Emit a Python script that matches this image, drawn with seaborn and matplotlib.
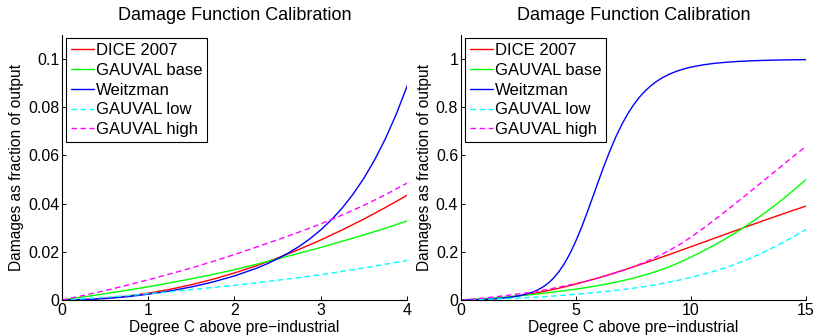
import matplotlib
matplotlib.use("Agg")
import matplotlib.pyplot as plt
import seaborn as sns
import pandas as pd

# Temperature increase above pre-industrial (degree C)
temperature = [0, 0.25, 0.5, 0.75, 1, 1.25, 1.5, 1.75, 2, 2.25, 2.5, 2.75, 3,
               3.25, 3.5, 3.75, 4, 4.5, 5, 5.5, 6, 6.5, 7, 7.5, 8, 8.5, 9,
               9.5, 10, 10.5, 11, 11.5, 12, 12.5, 13, 13.5, 14, 14.5, 15]

# Finer temperature grid for the steep Weitzman curve
temperature_weitzman = [0, 0.25, 0.5, 0.75, 1, 1.25, 1.5, 1.75, 2, 2.25,
                        2.375, 2.5, 2.625, 2.75, 2.875, 3, 3.125, 3.25, 3.375,
                        3.5, 3.625, 3.75, 3.875, 4,
                        4.25, 4.5, 4.75, 5, 5.25, 5.5, 5.75, 6, 6.25, 6.5,
                        6.75, 7, 7.25, 7.5, 7.75, 8, 8.25, 8.5, 8.75, 9, 9.25,
                        9.5, 9.75, 10,
                        10.5, 11, 11.5, 12, 12.5, 13, 13.5, 14, 14.5, 15]

# Damages as a fraction of output for each calibration
dice_2007 = [0, 0.00018, 0.00071, 0.00159, 0.00283, 0.00442, 0.00635, 0.00862,
             0.01123, 0.01417, 0.01743, 0.02102, 0.02491, 0.02911, 0.03361,
             0.03839, 0.04345, 0.05436, 0.06627, 0.07908, 0.09272, 0.10710,
             0.12211, 0.13770, 0.15376, 0.17020, 0.18695, 0.20395, 0.22110,
             0.23837, 0.25567, 0.27296, 0.29020, 0.30730, 0.32421, 0.34097,
             0.35748, 0.37377, 0.38977]
gauval_base = [0, 0.0013, 0.0026, 0.0040, 0.0055, 0.0071, 0.0088, 0.0106,
               0.0126, 0.0148, 0.0171, 0.0194, 0.0218, 0.0244, 0.0270, 0.0298,
               0.0328, 0.0388, 0.0452, 0.0525, 0.0605, 0.0695, 0.0795, 0.0910,
               0.1040, 0.1190, 0.1360, 0.1560, 0.1780, 0.2020, 0.2270, 0.2540,
               0.2830, 0.3140, 0.3470, 0.3820, 0.4190, 0.4590, 0.5000]
weitzman = [0, 0.00015, 0.00060, 0.00134, 0.00239, 0.00374, 0.00542, 0.00748,
            0.01000, 0.01313,
            0.01499, 0.01710, 0.01951, 0.02226, 0.02543, 0.02909, 0.03333,
            0.03824, 0.04394, 0.05054, 0.05818, 0.06698, 0.07710, 0.08866,
            0.11668, 0.15199, 0.19512, 0.24603, 0.30386, 0.36699, 0.43315,
            0.49984, 0.56458, 0.62535, 0.68074, 0.73002, 0.77295, 0.80977,
            0.84097, 0.86716, 0.88901, 0.90718, 0.92224, 0.93472, 0.94505,
            0.95363, 0.96075, 0.96668,
            0.97577, 0.98216, 0.98672, 0.98999, 0.99238, 0.99414, 0.99545,
            0.99644, 0.99719, 0.99776]
gauval_low = [0, 0.0005, 0.0011, 0.0018, 0.0026, 0.0034, 0.0043, 0.0052,
              0.0061, 0.0071, 0.0082, 0.0093, 0.0105, 0.0119, 0.0133, 0.0148,
              0.0164, 0.0200, 0.0240, 0.0282, 0.0325, 0.0375, 0.0430, 0.0490,
              0.0560, 0.0640, 0.0730, 0.0830, 0.0940, 0.1060, 0.1190, 0.1340,
              0.1510, 0.1700, 0.1910, 0.2140, 0.2390, 0.2650, 0.2930]
gauval_high = [0, 0.0019, 0.0039, 0.0061, 0.0084, 0.0108, 0.0133, 0.0160,
               0.0189, 0.0219, 0.0250, 0.0282, 0.0316, 0.0353, 0.0393, 0.0437,
               0.0485, 0.0583, 0.0685, 0.0795, 0.0920, 0.1060, 0.1215, 0.1385,
               0.1575, 0.1790, 0.2030, 0.2300, 0.2610, 0.2950, 0.3310, 0.3680,
               0.4060, 0.4440, 0.4830, 0.5220, 0.5610, 0.6000, 0.6380]

series_names = ["DICE 2007", "GAUVAL base", "Weitzman", "GAUVAL low", "GAUVAL high"]
series_x = [temperature, temperature, temperature_weitzman, temperature, temperature]
series_values = [dice_2007, gauval_base, weitzman, gauval_low, gauval_high]
series_colors = ["#ff0000", "#00ff00", "#0000ff", "#00ffff", "#ff00ff"]
series_dashed = [False, False, False, True, True]

left_xticks = [0, 1, 2, 3, 4]
left_yticks = [0, 0.02, 0.04, 0.06, 0.08, 0.1]
left_yticklabels = ["0", "0.02", "0.04", "0.06", "0.08", "0.1"]
right_xticks = [0, 5, 10, 15]
right_yticks = [0, 0.2, 0.4, 0.6, 0.8, 1.0]
right_yticklabels = ["0", "0.2", "0.4", "0.6", "0.8", "1"]

title_text = "Damage Function Calibration"
xlabel_text = "Degree C above pre\u2212industrial"
ylabel_text = "Damages as fraction of output"

frames = []
for name, xs, vals in zip(series_names, series_x, series_values):
    frames.append(pd.DataFrame({"T": xs, "D": vals, "model": name}))
data = pd.concat(frames, ignore_index=True)

sns.set_style("white")
plt.rcParams.update({
    "font.family": ["Liberation Sans", "DejaVu Sans"],
    "font.size": 11,
    "axes.edgecolor": "black",
    "axes.linewidth": 0.8,
    "xtick.direction": "in",
    "ytick.direction": "in",
    "xtick.major.size": 2.6,
    "ytick.major.size": 2.6,
    "xtick.major.width": 0.7,
    "ytick.major.width": 0.7,
    "xtick.bottom": True,
    "ytick.left": True,
    "xtick.color": "black",
    "ytick.color": "black",
    "text.color": "black",
    "axes.labelcolor": "black",
})

fig = plt.figure(figsize=(8.17, 3.36), dpi=100)
W, H = 817, 336
ax_left = fig.add_axes([62 / W, 36 / H, 345 / W, 265 / H])
ax_right = fig.add_axes([461 / W, 36 / H, 345 / W, 265 / H])

panels = [
    (ax_left, (0, 4), (0, 0.11), left_xticks, left_yticks, left_yticklabels),
    (ax_right, (0, 15), (0, 1.1), right_xticks, right_yticks, right_yticklabels),
]

for ax, xlim, ylim, xt, yt, ytl in panels:
    handles = []
    for name, color, dashed in zip(series_names, series_colors, series_dashed):
        sub = data[data["model"] == name]
        sns.lineplot(data=sub, x="T", y="D", ax=ax, color=color,
                     linewidth=1.0, legend=False, errorbar=None, sort=False)
        line = ax.get_lines()[-1]
        if dashed:
            line.set_dashes((4, 2.5))
        handles.append(line)
    ax.set_xlim(*xlim)
    ax.set_ylim(*ylim)
    ax.set_xticks(xt)
    ax.set_xticklabels([str(v) for v in xt])
    ax.set_yticks(yt)
    ax.set_yticklabels(ytl)
    ax.tick_params(labelsize=11.5, pad=2)
    sns.despine(ax=ax, top=True, right=True)
    ax.set_title(title_text, fontsize=13, pad=10.8)
    ax.set_xlabel(xlabel_text, fontsize=11.2, labelpad=1.5)
    ax.set_ylabel(ylabel_text, fontsize=11.2, labelpad=3)
    leg = ax.legend(handles, series_names, loc="upper left",
                    bbox_to_anchor=(0.012, 0.989), borderaxespad=0,
                    fontsize=12, handlelength=1.4, handletextpad=0.08,
                    labelspacing=0.29, borderpad=0.3, fancybox=False,
                    framealpha=1, edgecolor="black")
    leg.get_frame().set_linewidth(0.8)

fig.savefig("out.png", dpi=100)
